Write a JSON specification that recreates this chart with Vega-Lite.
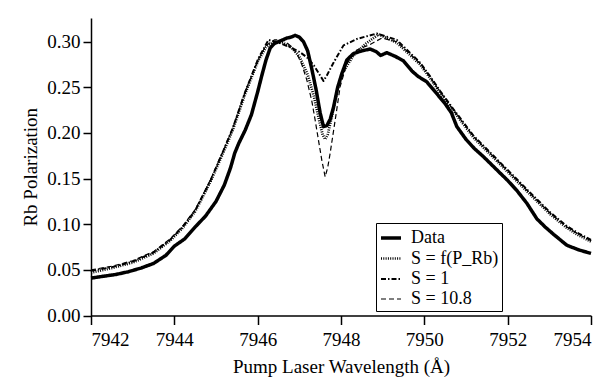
{
  "$schema": "https://vega.github.io/schema/vega-lite/v6.json",
  "autosize": {"type": "none"},
  "padding": {"left": 91, "top": 18, "right": 24, "bottom": 65},
  "width": 500,
  "height": 297.5,
  "background": "white",
  "config": {
    "view": {"stroke": null},
    "font": "Liberation Serif",
    "axis": {
      "domainColor": "black", "domainWidth": 1.5, "tickColor": "black", "tickWidth": 1.5,
      "labelColor": "black", "titleColor": "black", "labelFont": "Liberation Serif", "titleFont": "Liberation Serif",
      "labelFontSize": 19, "titleFontSize": 19, "titleFontWeight": "normal", "grid": false, "tickSize": 8
    },
    "legend": {"labelFont": "Liberation Serif", "labelColor": "black"}
  },
  "data": {"values": [
    {"s":"Data","x":7942.0,"y":0.041},{"s":"Data","x":7942.3,"y":0.043},{"s":"Data","x":7942.6,"y":0.045},{"s":"Data","x":7942.9,"y":0.048},
    {"s":"Data","x":7943.2,"y":0.052},{"s":"Data","x":7943.5,"y":0.057},{"s":"Data","x":7943.8,"y":0.066},{"s":"Data","x":7944.0,"y":0.076},
    {"s":"Data","x":7944.25,"y":0.084},{"s":"Data","x":7944.5,"y":0.097},{"s":"Data","x":7944.75,"y":0.109},{"s":"Data","x":7945.0,"y":0.125},
    {"s":"Data","x":7945.2,"y":0.143},{"s":"Data","x":7945.35,"y":0.162},{"s":"Data","x":7945.45,"y":0.178},{"s":"Data","x":7945.55,"y":0.189},
    {"s":"Data","x":7945.7,"y":0.203},{"s":"Data","x":7945.85,"y":0.220},{"s":"Data","x":7946.0,"y":0.245},{"s":"Data","x":7946.1,"y":0.263},
    {"s":"Data","x":7946.2,"y":0.280},{"s":"Data","x":7946.3,"y":0.293},{"s":"Data","x":7946.4,"y":0.298},{"s":"Data","x":7946.5,"y":0.300},
    {"s":"Data","x":7946.6,"y":0.302},{"s":"Data","x":7946.7,"y":0.304},{"s":"Data","x":7946.8,"y":0.305},{"s":"Data","x":7946.9,"y":0.307},
    {"s":"Data","x":7947.0,"y":0.305},{"s":"Data","x":7947.1,"y":0.300},{"s":"Data","x":7947.2,"y":0.290},{"s":"Data","x":7947.3,"y":0.270},
    {"s":"Data","x":7947.4,"y":0.248},{"s":"Data","x":7947.5,"y":0.222},{"s":"Data","x":7947.58,"y":0.207},{"s":"Data","x":7947.66,"y":0.208},
    {"s":"Data","x":7947.74,"y":0.215},{"s":"Data","x":7947.82,"y":0.228},{"s":"Data","x":7947.92,"y":0.250},{"s":"Data","x":7948.02,"y":0.265},
    {"s":"Data","x":7948.14,"y":0.280},{"s":"Data","x":7948.3,"y":0.287},{"s":"Data","x":7948.5,"y":0.290},{"s":"Data","x":7948.7,"y":0.292},
    {"s":"Data","x":7948.85,"y":0.289},{"s":"Data","x":7948.95,"y":0.285},{"s":"Data","x":7949.1,"y":0.288},{"s":"Data","x":7949.3,"y":0.284},
    {"s":"Data","x":7949.5,"y":0.279},{"s":"Data","x":7949.7,"y":0.268},{"s":"Data","x":7949.85,"y":0.262},{"s":"Data","x":7950.06,"y":0.256},
    {"s":"Data","x":7950.3,"y":0.243},{"s":"Data","x":7950.5,"y":0.232},{"s":"Data","x":7950.65,"y":0.222},{"s":"Data","x":7950.78,"y":0.207},
    {"s":"Data","x":7951.0,"y":0.193},{"s":"Data","x":7951.2,"y":0.183},{"s":"Data","x":7951.42,"y":0.174},{"s":"Data","x":7951.62,"y":0.165},
    {"s":"Data","x":7951.82,"y":0.156},{"s":"Data","x":7952.0,"y":0.148},{"s":"Data","x":7952.22,"y":0.137},{"s":"Data","x":7952.46,"y":0.123},
    {"s":"Data","x":7952.7,"y":0.106},{"s":"Data","x":7952.9,"y":0.097},{"s":"Data","x":7953.1,"y":0.089},{"s":"Data","x":7953.42,"y":0.077},
    {"s":"Data","x":7953.7,"y":0.072},{"s":"Data","x":7954.0,"y":0.068},

    {"s":"S = f(P_Rb)","x":7942.0,"y":0.047},{"s":"S = f(P_Rb)","x":7942.5,"y":0.052},{"s":"S = f(P_Rb)","x":7943.0,"y":0.058},{"s":"S = f(P_Rb)","x":7943.5,"y":0.068},
    {"s":"S = f(P_Rb)","x":7943.9,"y":0.082},{"s":"S = f(P_Rb)","x":7944.2,"y":0.096},{"s":"S = f(P_Rb)","x":7944.5,"y":0.114},{"s":"S = f(P_Rb)","x":7944.86,"y":0.146},
    {"s":"S = f(P_Rb)","x":7945.18,"y":0.179},{"s":"S = f(P_Rb)","x":7945.4,"y":0.203},{"s":"S = f(P_Rb)","x":7945.7,"y":0.243},{"s":"S = f(P_Rb)","x":7946.0,"y":0.278},
    {"s":"S = f(P_Rb)","x":7946.2,"y":0.294},{"s":"S = f(P_Rb)","x":7946.4,"y":0.300},{"s":"S = f(P_Rb)","x":7946.6,"y":0.299},{"s":"S = f(P_Rb)","x":7946.8,"y":0.294},
    {"s":"S = f(P_Rb)","x":7947.0,"y":0.284},{"s":"S = f(P_Rb)","x":7947.2,"y":0.264},{"s":"S = f(P_Rb)","x":7947.35,"y":0.240},{"s":"S = f(P_Rb)","x":7947.47,"y":0.215},
    {"s":"S = f(P_Rb)","x":7947.56,"y":0.198},{"s":"S = f(P_Rb)","x":7947.62,"y":0.193},{"s":"S = f(P_Rb)","x":7947.68,"y":0.198},{"s":"S = f(P_Rb)","x":7947.78,"y":0.218},
    {"s":"S = f(P_Rb)","x":7947.9,"y":0.245},{"s":"S = f(P_Rb)","x":7948.05,"y":0.267},{"s":"S = f(P_Rb)","x":7948.3,"y":0.285},{"s":"S = f(P_Rb)","x":7948.6,"y":0.298},
    {"s":"S = f(P_Rb)","x":7948.9,"y":0.308},{"s":"S = f(P_Rb)","x":7949.34,"y":0.299},{"s":"S = f(P_Rb)","x":7949.9,"y":0.275},{"s":"S = f(P_Rb)","x":7950.14,"y":0.260},
    {"s":"S = f(P_Rb)","x":7950.38,"y":0.244},{"s":"S = f(P_Rb)","x":7950.7,"y":0.224},{"s":"S = f(P_Rb)","x":7951.18,"y":0.195},{"s":"S = f(P_Rb)","x":7951.66,"y":0.173},
    {"s":"S = f(P_Rb)","x":7952.14,"y":0.151},{"s":"S = f(P_Rb)","x":7952.62,"y":0.129},{"s":"S = f(P_Rb)","x":7953.02,"y":0.111},{"s":"S = f(P_Rb)","x":7953.42,"y":0.096},
    {"s":"S = f(P_Rb)","x":7953.7,"y":0.088},{"s":"S = f(P_Rb)","x":7954.0,"y":0.081},

    {"s":"S = 1","x":7942.0,"y":0.049},{"s":"S = 1","x":7942.5,"y":0.053},{"s":"S = 1","x":7943.0,"y":0.059},{"s":"S = 1","x":7943.5,"y":0.069},
    {"s":"S = 1","x":7943.9,"y":0.083},{"s":"S = 1","x":7944.2,"y":0.097},{"s":"S = 1","x":7944.5,"y":0.115},{"s":"S = 1","x":7944.86,"y":0.147},
    {"s":"S = 1","x":7945.18,"y":0.181},{"s":"S = 1","x":7945.4,"y":0.205},{"s":"S = 1","x":7945.7,"y":0.245},{"s":"S = 1","x":7946.02,"y":0.282},
    {"s":"S = 1","x":7946.26,"y":0.302},{"s":"S = 1","x":7946.5,"y":0.299},{"s":"S = 1","x":7946.78,"y":0.294},{"s":"S = 1","x":7947.0,"y":0.289},
    {"s":"S = 1","x":7947.18,"y":0.283},{"s":"S = 1","x":7947.35,"y":0.274},{"s":"S = 1","x":7947.5,"y":0.263},{"s":"S = 1","x":7947.58,"y":0.257},
    {"s":"S = 1","x":7947.66,"y":0.263},{"s":"S = 1","x":7947.82,"y":0.277},{"s":"S = 1","x":7948.06,"y":0.296},{"s":"S = 1","x":7948.38,"y":0.303},
    {"s":"S = 1","x":7948.86,"y":0.309},{"s":"S = 1","x":7949.34,"y":0.302},{"s":"S = 1","x":7949.9,"y":0.277},{"s":"S = 1","x":7950.14,"y":0.262},
    {"s":"S = 1","x":7950.38,"y":0.246},{"s":"S = 1","x":7950.7,"y":0.226},{"s":"S = 1","x":7951.18,"y":0.197},{"s":"S = 1","x":7951.66,"y":0.175},
    {"s":"S = 1","x":7952.14,"y":0.153},{"s":"S = 1","x":7952.62,"y":0.131},{"s":"S = 1","x":7953.02,"y":0.113},{"s":"S = 1","x":7953.42,"y":0.098},
    {"s":"S = 1","x":7953.7,"y":0.090},{"s":"S = 1","x":7954.0,"y":0.083},

    {"s":"S = 10.8","x":7942.0,"y":0.050},{"s":"S = 10.8","x":7942.5,"y":0.054},{"s":"S = 10.8","x":7943.0,"y":0.060},{"s":"S = 10.8","x":7943.5,"y":0.070},
    {"s":"S = 10.8","x":7943.9,"y":0.084},{"s":"S = 10.8","x":7944.2,"y":0.098},{"s":"S = 10.8","x":7944.5,"y":0.116},{"s":"S = 10.8","x":7944.86,"y":0.148},
    {"s":"S = 10.8","x":7945.18,"y":0.181},{"s":"S = 10.8","x":7945.4,"y":0.205},{"s":"S = 10.8","x":7945.7,"y":0.245},{"s":"S = 10.8","x":7946.0,"y":0.279},
    {"s":"S = 10.8","x":7946.2,"y":0.296},{"s":"S = 10.8","x":7946.4,"y":0.302},{"s":"S = 10.8","x":7946.62,"y":0.302},{"s":"S = 10.8","x":7946.8,"y":0.295},
    {"s":"S = 10.8","x":7946.94,"y":0.287},{"s":"S = 10.8","x":7947.06,"y":0.275},{"s":"S = 10.8","x":7947.18,"y":0.258},{"s":"S = 10.8","x":7947.3,"y":0.235},
    {"s":"S = 10.8","x":7947.38,"y":0.214},{"s":"S = 10.8","x":7947.46,"y":0.192},{"s":"S = 10.8","x":7947.54,"y":0.170},{"s":"S = 10.8","x":7947.62,"y":0.152},
    {"s":"S = 10.8","x":7947.68,"y":0.162},{"s":"S = 10.8","x":7947.74,"y":0.178},{"s":"S = 10.8","x":7947.86,"y":0.214},{"s":"S = 10.8","x":7947.98,"y":0.251},
    {"s":"S = 10.8","x":7948.14,"y":0.276},{"s":"S = 10.8","x":7948.38,"y":0.291},{"s":"S = 10.8","x":7948.7,"y":0.297},{"s":"S = 10.8","x":7948.98,"y":0.304},
    {"s":"S = 10.8","x":7949.34,"y":0.300},{"s":"S = 10.8","x":7949.9,"y":0.276},{"s":"S = 10.8","x":7950.14,"y":0.261},{"s":"S = 10.8","x":7950.38,"y":0.245},
    {"s":"S = 10.8","x":7950.7,"y":0.225},{"s":"S = 10.8","x":7951.18,"y":0.196},{"s":"S = 10.8","x":7951.66,"y":0.174},{"s":"S = 10.8","x":7952.14,"y":0.152},
    {"s":"S = 10.8","x":7952.62,"y":0.130},{"s":"S = 10.8","x":7953.02,"y":0.112},{"s":"S = 10.8","x":7953.42,"y":0.097},{"s":"S = 10.8","x":7953.7,"y":0.089},
    {"s":"S = 10.8","x":7954.0,"y":0.082}
  ]},
  "mark": {"type": "line", "color": "black", "strokeJoin": "round"},
  "encoding": {
    "x": {"field": "x", "type": "quantitative", "scale": {"domain": [7942, 7954], "nice": false, "zero": false},
      "axis": {"values": [7942, 7944, 7946, 7948, 7950, 7952, 7954], "format": "d", "title": "Pump Laser Wavelength (Å)", "tickSize": 9, "labelPadding": 6, "titlePadding": 8}},
    "y": {"field": "y", "type": "quantitative", "scale": {"domain": [0, 0.326], "nice": false},
      "axis": {"values": [0, 0.05, 0.1, 0.15, 0.2, 0.25, 0.3], "format": ".2f", "title": "Rb Polarization", "labelPadding": 3, "titlePadding": 6}},
    "detail": {"field": "s"},
    "strokeDash": {"field": "s", "type": "nominal",
      "scale": {"domain": ["Data", "S = f(P_Rb)", "S = 1", "S = 10.8"], "range": [[1, 0], [1, 1.3], [5, 2, 1.5, 2], [5, 3]]},
      "legend": {"title": null, "orient": "none", "legendX": 285, "legendY": 205, "strokeColor": "black", "fillColor": "white", "padding": 3, "labelFontSize": 18, "symbolType": "stroke", "symbolSize": 400, "symbolStrokeColor": "black", "rowPadding": 0, "labelOffset": 8}},
    "strokeWidth": {"field": "s", "type": "nominal",
      "scale": {"domain": ["Data", "S = f(P_Rb)", "S = 1", "S = 10.8"], "range": [3.5, 1.2, 1.5, 1.6]},
      "legend": {"title": null, "orient": "none", "legendX": 285, "legendY": 205, "strokeColor": "black", "fillColor": "white", "padding": 3, "labelFontSize": 18, "symbolType": "stroke", "symbolSize": 400, "symbolStrokeColor": "black", "rowPadding": 0, "labelOffset": 8}}
  }
}
